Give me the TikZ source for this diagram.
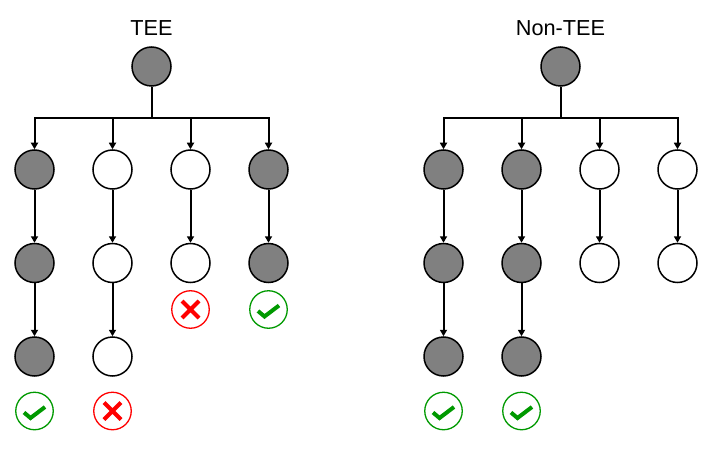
\documentclass[tikz,border=0pt]{standalone}
\usepackage{fontspec}
\setmainfont{Liberation Sans}
\usetikzlibrary{arrows.meta}

\definecolor{okgreen}{HTML}{009900}

\tikzset{
	tick/.pic={\draw[okgreen,line width=4pt] (-10.5,1.5) -- (-4,7) -- (10.5,-4);},
	cross/.pic={\draw[red,line width=4pt] (-8.5,-8.5) -- (8.5,8.5) (-8.5,8.5) -- (8.5,-8.5);}
}

\begin{document}
\begin{tikzpicture}[x=1pt,y=-1pt,line width=2pt,>={Triangle[length=6.5pt,width=7pt]},node distance=93.5pt]

\tikzstyle{every node}=[font=\fontsize{21.7}{24}\selectfont]
\tikzstyle{full}=[circle,draw=black,fill=black!50,inner sep=0pt,minimum size=39pt,line width=1.5pt]
\tikzstyle{empty}=[circle,draw=black,fill=white,inner sep=0pt,minimum size=39pt,line width=1.5pt]
\tikzstyle{pass}=[circle,draw=okgreen,inner sep=0pt,minimum size=37.5pt,line width=1.3pt]
\tikzstyle{fail}=[circle,draw=red,inner sep=0pt,minimum size=37.5pt,line width=1.3pt]

\useasboundingbox (0,0) rectangle (706,449);

% TEE tree
\node (t) at (151.5,28) {TEE};
\node[full] (t0) at (151.5,66.5) {};
\coordinate (tb) at (151.5,118);

\node[full]  (t1) at (34.5,169.5)  {};
\node[empty] (t2) at (112.5,169.5) {};
\node[empty] (t3) at (190.5,169.5) {};
\node[full]  (t4) at (268.5,169.5) {};

\node[full]  (t5) [below of=t1] {};
\node[empty] (t6) [below of=t2] {};
\node[empty] (t7) [below of=t3] {};
\node[full]  (t8) [below of=t4] {};
\node[full]  (t9) [below of=t5] {};
\node[empty] (t10) [below of=t6] {};

\node[fail] (r7) [below of=t7,node distance=46.5pt] {};
\node[pass] (r8) [below of=t8,node distance=46.5pt] {};
\node[pass] (r9) [below of=t9,node distance=54.5pt] {};
\node[fail] (r10) [below of=t10,node distance=54.5pt] {};

\pic at (r7) {cross};
\pic at (r8) {tick};
\pic at (r9) {tick};
\pic at (r10) {cross};

\draw (t0) -- (tb);
\draw[->] (tb) -| (t1);
\draw[->] (tb) -| (t2);
\draw[->] (tb) -| (t3);
\draw[->] (tb) -| (t4);
\path[draw,->] 	(t1) edge (t5)
				(t2) edge (t6)
				(t3) edge (t7)
				(t4) edge (t8)
				(t5) edge (t9)
				(t6) edge (t10);

% Non-TEE tree
\node (n) at (560.5,28) {Non-TEE};
\node[full] (n0) at (560.5,66.5) {};
\coordinate (nb) at (560.5,118);

\node[full]  (n1) at (443.5,169.5) {};
\node[full]  (n2) at (521.5,169.5) {};
\node[empty] (n3) at (599.5,169.5) {};
\node[empty] (n4) at (677.5,169.5) {};

\node[full]  (n5) [below of=n1] {};
\node[full]  (n6) [below of=n2] {};
\node[empty] (n7) [below of=n3] {};
\node[empty] (n8) [below of=n4] {};
\node[full]  (n9) [below of=n5] {};
\node[full]  (n10) [below of=n6] {};

\node[pass] (s9) [below of=n9,node distance=54.5pt] {};
\node[pass] (s10) [below of=n10,node distance=54.5pt] {};

\pic at (s9) {tick};
\pic at (s10) {tick};

\draw (n0) -- (nb);
\draw[->] (nb) -| (n1);
\draw[->] (nb) -| (n2);
\draw[->] (nb) -| (n3);
\draw[->] (nb) -| (n4);
\path[draw,->] 	(n1) edge (n5)
				(n2) edge (n6)
				(n3) edge (n7)
				(n4) edge (n8)
				(n5) edge (n9)
				(n6) edge (n10);

\end{tikzpicture}
\end{document}
